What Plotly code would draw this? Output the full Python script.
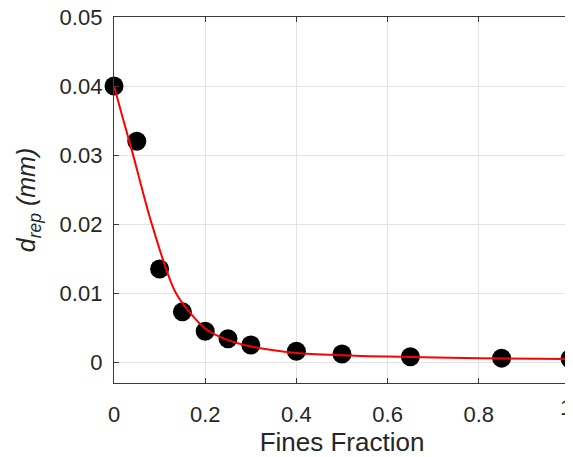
import plotly.graph_objects as go

# measured data points
fines_fraction = [0, 0.05, 0.10, 0.15, 0.20, 0.25, 0.30, 0.40, 0.50, 0.65, 0.85, 1.00]
d_rep = [0.0400, 0.0320, 0.0135, 0.0073, 0.0045, 0.0034, 0.0025, 0.0016, 0.0012, 0.0008, 0.0006, 0.0005]

# fitted curve
fit_x = [0, 0.02, 0.042, 0.083, 0.136, 0.20, 0.25, 0.30, 0.40, 0.50, 0.60, 0.80, 1.00]
fit_y = [0.0400, 0.0352, 0.0300, 0.0200, 0.0100, 0.0049, 0.0032, 0.0023, 0.00135, 0.00101, 0.00082, 0.00058, 0.00048]

x_ticks = [0, 0.2, 0.4, 0.6, 0.8, 1]
x_tick_labels = ["0", "0.2", "0.4", "0.6", "0.8", "1"]
y_ticks = [0, 0.01, 0.02, 0.03, 0.04, 0.05]
y_tick_labels = ["0", "0.01", "0.02", "0.03", "0.04", "0.05"]

FONT = "Liberation Sans, Arial, sans-serif"
AX = "#3a3a3a"
GRID = "#e3e3e3"

fig = go.Figure()
fig.add_trace(go.Scatter(
    x=fines_fraction, y=d_rep, mode="markers",
    marker=dict(size=19, color="black"),
    cliponaxis=False, showlegend=False))
fig.add_trace(go.Scatter(
    x=fit_x, y=fit_y, mode="lines",
    line=dict(color="#ff0000", width=2, shape="spline", smoothing=0.8),
    cliponaxis=False, showlegend=False))

# last x tick label sits at the very edge of the page; draw it as an
# annotation so it stays visible
shown_x_labels = x_tick_labels[:-1] + [""]
fig.add_annotation(
    x=x_ticks[-1], y=0, xref="x", yref="paper",
    text=x_tick_labels[-1], showarrow=False,
    xanchor="center", yanchor="top", yshift=-10, xshift=-4,
    font=dict(size=22, family=FONT, color="#262626"))

# page body has an 8px margin, so the figure is sized/offset to compensate
fig.update_layout(
    width=565, height=449,
    margin=dict(l=106, r=3, t=9, b=74),
    paper_bgcolor="white", plot_bgcolor="white",
    font=dict(family=FONT, color="#262626", size=22),
    xaxis=dict(
        range=[0, 1], tickvals=x_ticks, ticktext=shown_x_labels,
        showgrid=True, gridcolor=GRID, gridwidth=1, zeroline=False,
        showline=True, linecolor=AX, linewidth=1.3, mirror="ticks",
        ticks="inside", ticklen=5, tickcolor=AX, ticklabelstandoff=11,
        automargin=False, ticklabeloverflow="allow",
        title=dict(text="Fines Fraction", font=dict(size=26), standoff=9),
    ),
    yaxis=dict(
        range=[-0.003, 0.05], tickvals=y_ticks, ticktext=y_tick_labels,
        showgrid=True, gridcolor=GRID, gridwidth=1, zeroline=False,
        showline=True, linecolor=AX, linewidth=1.3, mirror="ticks",
        ticks="inside", ticklen=5, tickcolor=AX, ticklabelstandoff=6,
        automargin=False, ticklabeloverflow="allow",
        title=dict(text="<i>d</i><sub><i>rep</i></sub><i> (mm)</i>", font=dict(size=25), standoff=16),
    ),
)

fig.write_html("out.html")
